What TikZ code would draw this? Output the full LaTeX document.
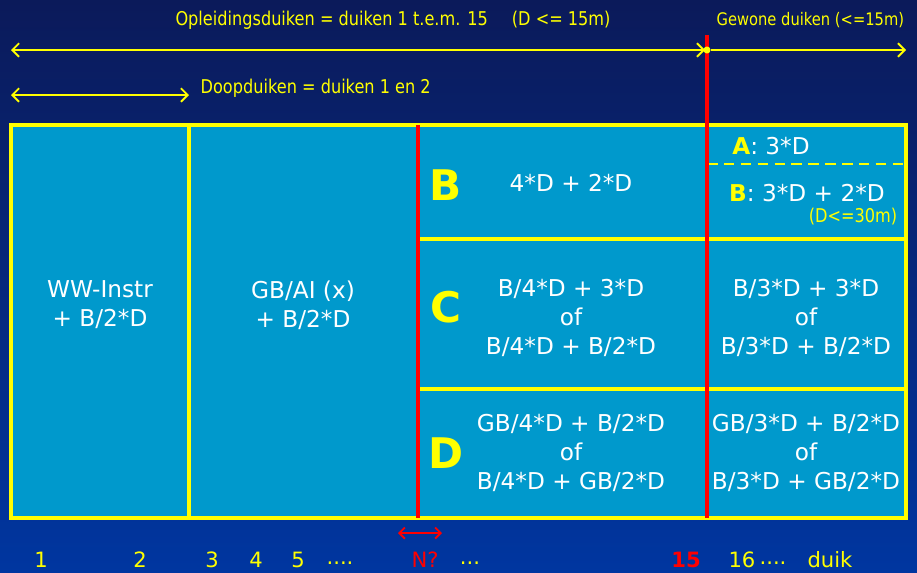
\documentclass[tikz,border=0pt]{standalone}
\usepackage{fontspec}
\setmainfont{DejaVu Sans}
\newfontfamily\narrowfont[FakeStretch=0.85]{DejaVu Sans}
\usetikzlibrary{arrows.meta,positioning}
\definecolor{bgTop}{HTML}{0B1A5A}
\definecolor{bgBot}{HTML}{0036A0}
\definecolor{cellBlue}{HTML}{0099CC}
\definecolor{lineYellow}{HTML}{FFFF00}
\definecolor{lineRed}{HTML}{FF0000}
\tikzset{
  yline/.style={draw=lineYellow, line width=2.2pt},
  rline/.style={draw=lineRed, line width=3.5pt},
  yarrow/.style={draw=lineYellow, line width=1.3pt, {Straight Barb[length=1.7mm,width=3.4mm]}-{Straight Barb[length=1.7mm,width=3.4mm]}},
  rarrow/.style={draw=lineRed, line width=1.3pt, {Straight Barb[length=1.4mm,width=2.8mm]}-{Straight Barb[length=1.4mm,width=2.8mm]}},
  toplabel/.style={text=lineYellow, font=\narrowfont\fontsize{13.5}{15}\selectfont, inner sep=1pt},
  celltext/.style={text=white, font=\fontsize{16.5}{20.6}\selectfont, align=center, inner sep=1pt},
  bigletter/.style={text=lineYellow, font=\fontsize{30}{30}\selectfont\bfseries, inner sep=1pt},
  numlabel/.style={text=lineYellow, font=\fontsize{15}{18}\selectfont, inner sep=1pt},
  redlabel/.style={text=lineRed, font=\fontsize{15}{18}\selectfont, inner sep=1pt},
}
\begin{document}
\begin{tikzpicture}[x=0.025cm,y=-0.025cm]
  \shade[top color=bgTop, bottom color=bgBot] (0,0) rectangle (917,573);
  \useasboundingbox (0,0) rectangle (917,573);

  % table
  \fill[cellBlue] (11,125) rectangle (906,518);
  \draw[yline] (189,125) -- (189,518);
  \draw[yline] (418,239) -- (906,239) (418,389) -- (906,389);
  \draw[yline, line width=1.9pt, dash pattern=on 7.5pt off 4.5pt] (707,164) -- (906,164);
  \draw[yline] (11,125) rectangle (906,518);
  \draw[rline] (418,125) -- (418,518);
  \draw[rline] (707,35) -- (707,518);

  % top labels and ranges
  \node[toplabel] (oplLbl) at (393,20) {Opleidingsduiken = duiken 1 t.e.m. 15\quad\ (D <= 15m)};
  \node[toplabel, font=\narrowfont\fontsize{12.3}{14}\selectfont, anchor=west] (gewLbl) at (715,20) {Gewone duiken (<=15m)};
  \node[toplabel, anchor=west] (doopLbl) at (199,88) {Doopduiken = duiken 1 en 2};
  \coordinate (oplL) at (11,50);
  \coordinate (oplR) at (705,50);
  \coordinate (gewR) at (906,50);
  \coordinate (doopL) at (11,95);
  \coordinate (doopR) at (189,95);
  \node[circle, fill=lineYellow, inner sep=0pt, minimum size=5pt] (splitDot) at (707,50) {};
  \draw[yarrow] (oplL) -- (oplR);
  \draw[yarrow, -{Straight Barb[length=1.7mm,width=3.4mm]}] (splitDot) -- (gewR);
  \draw[yarrow] (doopL) -- (doopR);

  % cells
  \node[celltext] (wwCell) at (100,305) {WW-Instr\\+ B/2*D};
  \node[celltext] (gbCell) at (303,305) {GB/AI (x)\\+ B/2*D};
  \node[bigletter] (letB) at (446,185) {B};
  \node[bigletter] (letC) at (446,307) {C};
  \node[bigletter] (letD) at (446,453) {D};
  \node[celltext] (bCell) at (571,183) {4*D + 2*D};
  \node[celltext] (cCell) at (571,318) {B/4*D + 3*D\\of\\B/4*D + B/2*D};
  \node[celltext] (dCell) at (571,453) {GB/4*D + B/2*D\\of\\B/4*D + GB/2*D};
  \node[celltext] (aRight) at (771,146) {\textcolor{lineYellow}{\bfseries A}: 3*D};
  \node[celltext] (bRight) at (807,193) {\textcolor{lineYellow}{\bfseries B}: 3*D + 2*D};
  \node[toplabel] (depthNote) at (853,217) {(D<=30m)};
  \node[celltext] (cRight) at (806,318) {B/3*D + 3*D\\of\\B/3*D + B/2*D};
  \node[celltext] (dRight) at (806,453) {GB/3*D + B/2*D\\of\\B/3*D + GB/2*D};

  % dive numbers
  \coordinate (nArrL) at (398,533);
  \coordinate (nArrR) at (442,533);
  \draw[rarrow] (nArrL) -- (nArrR);
  \foreach \x/\t/\nm in {41/1/one, 140/2/two, 212/3/three, 256/4/four, 298/5/five, 742/16/sixteen, 830/duik/duik}
    { \node[numlabel] (num\nm) at (\x,560) {\t}; }
  \node[numlabel] (dotsA) at (340,563) {{....}};
  \node[numlabel] (dotsB) at (470,563) {{...}};
  \node[numlabel] (dotsC) at (773,563) {{....}};
  \node[redlabel] (numN) at (425,560) {N?};
  \node[redlabel, font=\fontsize{15}{18}\selectfont\bfseries] (numFifteen) at (686,560) {15};
\end{tikzpicture}
\end{document}
